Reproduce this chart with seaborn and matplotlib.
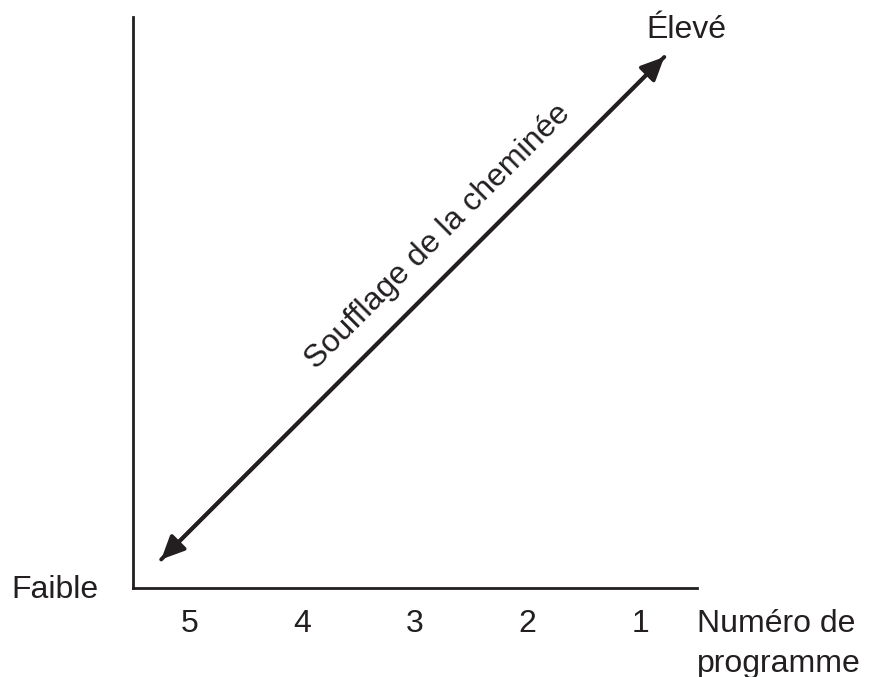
import matplotlib
matplotlib.use("Agg")
import matplotlib.pyplot as plt
import seaborn as sns

# Data
program_numbers = [5, 4, 3, 2, 1]
x_label = "Numéro de\nprogramme"
low_label = "Faible"
high_label = "Élevé"
arrow_label = "Soufflage de la cheminée"
# arrow runs from (program 5, low) to (program 1, high)
arrow_start = (5.25, 0.05)
arrow_end = (0.79, 0.93)

sns.set_style("white")
plt.rcParams['font.family'] = ['Liberation Sans', 'DejaVu Sans']
ink = "#231f20"
fs = 23

fig = plt.figure(figsize=(8.84, 6.77), dpi=100)
ax = fig.add_axes([133 / 884, 89 / 677, 564 / 884, 571 / 677])

ax.set_xlim(5.5, 0.5)
ax.set_ylim(0, 1)
ax.set_xticks(program_numbers)
ax.set_xticklabels([str(p) for p in program_numbers], fontsize=fs, color=ink)
ax.set_yticks([])
ax.tick_params(axis='x', length=0, pad=15)
sns.despine(ax=ax)
for side in ['left', 'bottom']:
    ax.spines[side].set_color(ink)
    ax.spines[side].set_linewidth(2)

# Double-headed arrow
for a, b in [(arrow_start, arrow_end), (arrow_end, arrow_start)]:
    ax.annotate("", xy=b, xytext=a,
                arrowprops=dict(arrowstyle="-|>,head_length=1.4,head_width=0.65",
                                color=ink, lw=2.8, shrinkA=0, shrinkB=0))

ax.text(2.80, 0.615, arrow_label, rotation=45, ha='center', va='center',
        fontsize=fs, color=ink)

# Labels
fig.text(98 / 884, 1 - 590 / 677, low_label, ha='right', va='center',
         fontsize=fs, color=ink)
fig.text(686 / 884, 1 - 30 / 677, high_label, ha='center', va='center',
         fontsize=fs, color=ink)
fig.text(697 / 884, 1 - 644 / 677, x_label, ha='left', va='center',
         fontsize=fs, color=ink, linespacing=1.4)

plt.savefig("out.png", dpi=100)
